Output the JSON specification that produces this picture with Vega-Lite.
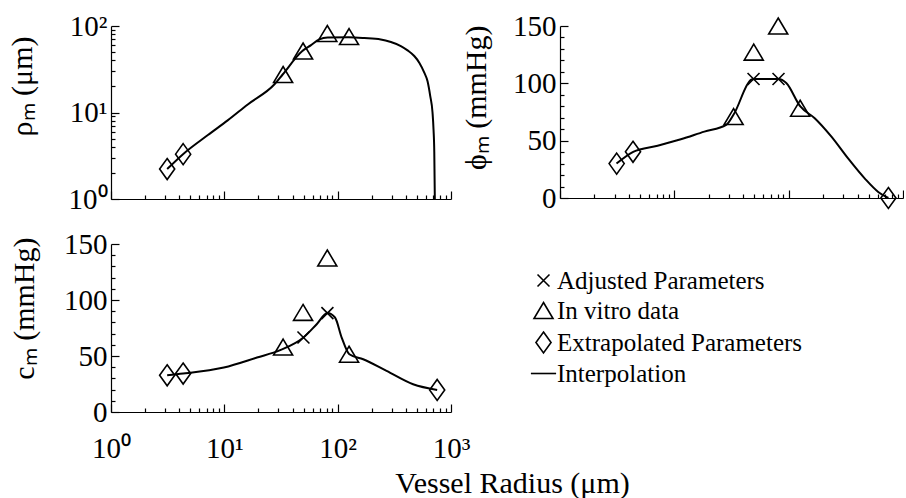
{
  "$schema": "https://vega.github.io/schema/vega-lite/v6.json",
  "background": "white",
  "padding": {"left": 6, "top": 12, "right": 0, "bottom": 0},
  "config": {
    "font": "Liberation Serif",
    "view": {"stroke": null},
    "axis": {
      "grid": false,
      "domainColor": "black",
      "domainWidth": 1.2,
      "tickColor": "black",
      "tickWidth": 1.2,
      "labelColor": "black",
      "labelFont": "Liberation Serif",
      "labelFontSize": 29,
      "labelFlush": false,
      "labelOverlap": false,
      "labelBound": false,
      "titleColor": "black",
      "titleFont": "Liberation Serif",
      "titleFontSize": 30,
      "titleFontWeight": "normal"
    },
    "legend": {
      "labelFont": "Liberation Serif",
      "labelFontSize": 25,
      "labelColor": "black",
      "labelLimit": 0,
      "padding": 0
    }
  },
  "datasets": {
    "markers": [
      {"panel": "rho", "r": 3.13, "v": 2.22, "kind": "Extrapolated Parameters"},
      {"panel": "rho", "r": 4.33, "v": 3.3, "kind": "Extrapolated Parameters"},
      {"panel": "rho", "r": 33, "v": 27.5, "kind": "In vitro data"},
      {"panel": "rho", "r": 49.5, "v": 51.4, "kind": "In vitro data"},
      {"panel": "rho", "r": 81, "v": 82, "kind": "In vitro data"},
      {"panel": "rho", "r": 126, "v": 75.5, "kind": "In vitro data"},

      {"panel": "phi", "r": 3.13, "v": 30, "kind": "Extrapolated Parameters"},
      {"panel": "phi", "r": 4.35, "v": 40.3, "kind": "Extrapolated Parameters"},
      {"panel": "phi", "r": 745, "v": 0, "kind": "Extrapolated Parameters"},
      {"panel": "phi", "r": 33, "v": 71, "kind": "In vitro data"},
      {"panel": "phi", "r": 49.5, "v": 127.2, "kind": "In vitro data"},
      {"panel": "phi", "r": 81, "v": 150, "kind": "In vitro data"},
      {"panel": "phi", "r": 126, "v": 78.3, "kind": "In vitro data"},
      {"panel": "phi", "r": 49.3, "v": 103.8, "kind": "Adjusted Parameters"},
      {"panel": "phi", "r": 81.5, "v": 103.8, "kind": "Adjusted Parameters"},

      {"panel": "c", "r": 3.13, "v": 32.8, "kind": "Extrapolated Parameters"},
      {"panel": "c", "r": 4.33, "v": 34.3, "kind": "Extrapolated Parameters"},
      {"panel": "c", "r": 755, "v": 19.7, "kind": "Extrapolated Parameters"},
      {"panel": "c", "r": 33, "v": 58, "kind": "In vitro data"},
      {"panel": "c", "r": 49.5, "v": 88.9, "kind": "In vitro data"},
      {"panel": "c", "r": 81, "v": 137.5, "kind": "In vitro data"},
      {"panel": "c", "r": 126, "v": 51.6, "kind": "In vitro data"},
      {"panel": "c", "r": 49.9, "v": 66.5, "kind": "Adjusted Parameters"},
      {"panel": "c", "r": 81.2, "v": 88.3, "kind": "Adjusted Parameters"}
    ],
    "curves": [
      {"panel": "rho", "r": 3.13, "v": 2.22},
      {"panel": "rho", "r": 4.32, "v": 3.3},
      {"panel": "rho", "r": 7.16, "v": 5.49},
      {"panel": "rho", "r": 10.7, "v": 8.1},
      {"panel": "rho", "r": 16.1, "v": 12.4},
      {"panel": "rho", "r": 27.7, "v": 21.2},
      {"panel": "rho", "r": 32.7, "v": 27.5},
      {"panel": "rho", "r": 48.5, "v": 51},
      {"panel": "rho", "r": 58.2, "v": 60},
      {"panel": "rho", "r": 68.9, "v": 70},
      {"panel": "rho", "r": 81.6, "v": 73.5},
      {"panel": "rho", "r": 125, "v": 74},
      {"panel": "rho", "r": 172, "v": 72.6},
      {"panel": "rho", "r": 240, "v": 70},
      {"panel": "rho", "r": 295, "v": 65.3},
      {"panel": "rho", "r": 361, "v": 58.7},
      {"panel": "rho", "r": 414, "v": 52.3},
      {"panel": "rho", "r": 474, "v": 45},
      {"panel": "rho", "r": 525, "v": 37.7},
      {"panel": "rho", "r": 581, "v": 28.9},
      {"panel": "rho", "r": 621, "v": 23},
      {"panel": "rho", "r": 656, "v": 15.5},
      {"panel": "rho", "r": 687, "v": 10},
      {"panel": "rho", "r": 701, "v": 6.4},
      {"panel": "rho", "r": 712, "v": 3.5},
      {"panel": "rho", "r": 720, "v": 1},

      {"panel": "phi", "r": 3.12, "v": 30.1},
      {"panel": "phi", "r": 4.37, "v": 40.3},
      {"panel": "phi", "r": 7.14, "v": 45.6},
      {"panel": "phi", "r": 11.4, "v": 51.2},
      {"panel": "phi", "r": 18.3, "v": 57.9},
      {"panel": "phi", "r": 28.4, "v": 63.7},
      {"panel": "phi", "r": 33.1, "v": 73},
      {"panel": "phi", "r": 47, "v": 103.2},
      {"panel": "phi", "r": 49.3, "v": 103.8},
      {"panel": "phi", "r": 81.5, "v": 103.8},
      {"panel": "phi", "r": 95.3, "v": 100.3},
      {"panel": "phi", "r": 126.5, "v": 79.8},
      {"panel": "phi", "r": 169, "v": 69.6},
      {"panel": "phi", "r": 236.6, "v": 53.5},
      {"panel": "phi", "r": 331, "v": 34.5},
      {"panel": "phi", "r": 464, "v": 16.9},
      {"panel": "phi", "r": 607, "v": 5.3},
      {"panel": "phi", "r": 745, "v": 0},

      {"panel": "c", "r": 3.13, "v": 32.8},
      {"panel": "c", "r": 4.33, "v": 34.3},
      {"panel": "c", "r": 9.9, "v": 39.7},
      {"panel": "c", "r": 19.4, "v": 48.6},
      {"panel": "c", "r": 31.1, "v": 55.2},
      {"panel": "c", "r": 49.9, "v": 66.5},
      {"panel": "c", "r": 65.3, "v": 78.4},
      {"panel": "c", "r": 81.2, "v": 88.3},
      {"panel": "c", "r": 94.7, "v": 84.4},
      {"panel": "c", "r": 108.5, "v": 66.5},
      {"panel": "c", "r": 126.8, "v": 51.6},
      {"panel": "c", "r": 168, "v": 47.1},
      {"panel": "c", "r": 270, "v": 36.7},
      {"panel": "c", "r": 463, "v": 24.8},
      {"panel": "c", "r": 755, "v": 19.7}
    ]
  },
  "columns": 2,
  "spacing": {"row": 45, "column": 109},
  "bounds": "flush",
  "resolve": {
    "scale": {"x": "independent", "y": "independent", "shape": "independent"},
    "legend": {"shape": "independent"}
  },
  "concat": [
    {
      "width": 340,
      "height": 173,
      "layer": [
        {
          "data": {"name": "curves"},
          "transform": [{"filter": "datum.panel === 'rho'"}],
          "mark": {"type": "line", "color": "black", "strokeWidth": 2, "interpolate": "monotone", "clip": true},
          "encoding": {
            "x": {"field": "r", "type": "quantitative", "scale": {"type": "log", "domain": [1, 1000], "nice": false},
                  "axis": {"values": [1, 10, 100, 1000], "labels": false, "tickSize": -8, "title": null}},
            "y": {"field": "v", "type": "quantitative", "scale": {"type": "log", "domain": [1, 100], "nice": false},
                  "axis": {"values": [1, 10, 100], "tickSize": -8, "labelPadding": 12,
                           "labelExpr": "datum.value < 5 ? '10\u2070' : datum.value < 50 ? '10\u00b9' : '10\u00b2'",
                           "title": "\u03c1\u2098 (\u03bcm)", "titleAngle": -90, "titleX": -80, "titleY": 10,
                           "titleAlign": "right", "titleBaseline": "alphabetic"}}
          }
        },
        {
          "data": {"name": "markers"},
          "transform": [{"filter": "datum.panel === 'rho'"}],
          "mark": {"type": "point", "filled": false, "color": "black", "strokeWidth": 1.6, "size": 441, "opacity": 1},
          "encoding": {
            "x": {"field": "r", "type": "quantitative", "scale": {"type": "log", "domain": [1, 1000], "nice": false},
                  "axis": {"orient": "bottom", "values": [2,3,4,5,6,7,8,9,20,30,40,50,60,70,80,90,200,300,400,500,600,700,800,900],
                           "labels": false, "domain": false, "tickSize": -4, "title": null}},
            "y": {"field": "v", "type": "quantitative", "scale": {"type": "log", "domain": [1, 100], "nice": false},
                  "axis": {"orient": "left", "values": [2,3,4,5,6,7,8,9,20,30,40,50,60,70,80,90],
                           "labels": false, "domain": false, "tickSize": -4, "title": null}},
            "shape": {"field": "kind", "type": "nominal", "legend": null,
                      "scale": {"domain": ["Adjusted Parameters", "In vitro data", "Extrapolated Parameters", "Interpolation"],
                                "range": ["M-0.57,-0.57L0.57,0.57M-0.57,0.57L0.57,-0.57", "M0,-0.76L0.905,0.76L-0.905,0.76Z", "M0,-1L0.72,0L0,1L-0.72,0Z", "M-1.2,0L1.2,0"]}}
          }
        }
      ],
      "resolve": {"axis": {"x": "independent", "y": "independent"}}
    },
    {
      "width": 343,
      "height": 172,
      "layer": [
        {
          "data": {"name": "curves"},
          "transform": [{"filter": "datum.panel === 'phi'"}],
          "mark": {"type": "line", "color": "black", "strokeWidth": 2, "interpolate": "monotone", "clip": true},
          "encoding": {
            "x": {"field": "r", "type": "quantitative", "scale": {"type": "log", "domain": [1, 1000], "nice": false},
                  "axis": {"values": [1, 10, 100, 1000], "labels": false, "tickSize": -8, "title": null}},
            "y": {"field": "v", "type": "quantitative", "scale": {"domain": [0, 150], "nice": false},
                  "axis": {"values": [0, 50, 100, 150], "tickSize": -8, "labelPadding": 12,
                           "title": "\u03d5\u2098 (mmHg)", "titleAngle": -90, "titleX": -75, "titleY": -1,
                           "titleAlign": "right", "titleBaseline": "alphabetic"}}
          }
        },
        {
          "data": {"name": "markers"},
          "transform": [{"filter": "datum.panel === 'phi'"}],
          "mark": {"type": "point", "filled": false, "color": "black", "strokeWidth": 1.6, "size": 441, "opacity": 1},
          "encoding": {
            "x": {"field": "r", "type": "quantitative", "scale": {"type": "log", "domain": [1, 1000], "nice": false},
                  "axis": {"orient": "bottom", "values": [2,3,4,5,6,7,8,9,20,30,40,50,60,70,80,90,200,300,400,500,600,700,800,900],
                           "labels": false, "domain": false, "tickSize": -4, "title": null}},
            "y": {"field": "v", "type": "quantitative", "scale": {"domain": [0, 150], "nice": false},
                  "axis": {"orient": "left", "values": [10,20,30,40,60,70,80,90,110,120,130,140],
                           "labels": false, "domain": false, "tickSize": -4, "title": null}},
            "shape": {"field": "kind", "type": "nominal", "legend": null,
                      "scale": {"domain": ["Adjusted Parameters", "In vitro data", "Extrapolated Parameters", "Interpolation"],
                                "range": ["M-0.57,-0.57L0.57,0.57M-0.57,0.57L0.57,-0.57", "M0,-0.76L0.905,0.76L-0.905,0.76Z", "M0,-1L0.72,0L0,1L-0.72,0Z", "M-1.2,0L1.2,0"]}}
          }
        }
      ],
      "resolve": {"axis": {"x": "independent", "y": "independent"}}
    },
    {
      "width": 340,
      "height": 168,
      "layer": [
        {
          "data": {"name": "curves"},
          "transform": [{"filter": "datum.panel === 'c'"}],
          "mark": {"type": "line", "color": "black", "strokeWidth": 2, "interpolate": "monotone", "clip": true},
          "encoding": {
            "x": {"field": "r", "type": "quantitative", "scale": {"type": "log", "domain": [1, 1000], "nice": false},
                  "axis": {"values": [1, 10, 100, 1000], "tickSize": -8, "labelPadding": 30,
                           "labelExpr": "datum.value < 5 ? '10\u2070' : datum.value < 50 ? '10\u00b9' : datum.value < 500 ? '10\u00b2' : '10\u00b3'",
                           "title": "Vessel Radius (\u03bcm)", "titleX": 401, "titleY": 80,
                           "titleAlign": "center", "titleBaseline": "alphabetic"}},
            "y": {"field": "v", "type": "quantitative", "scale": {"domain": [0, 150], "nice": false},
                  "axis": {"values": [0, 50, 100, 150], "tickSize": -8, "labelPadding": 12,
                           "title": "c\u2098 (mmHg)", "titleAngle": -90, "titleX": -78, "titleY": -7,
                           "titleAlign": "right", "titleBaseline": "alphabetic"}}
          }
        },
        {
          "data": {"name": "markers"},
          "transform": [{"filter": "datum.panel === 'c'"}],
          "mark": {"type": "point", "filled": false, "color": "black", "strokeWidth": 1.6, "size": 441, "opacity": 1},
          "encoding": {
            "x": {"field": "r", "type": "quantitative", "scale": {"type": "log", "domain": [1, 1000], "nice": false},
                  "axis": {"orient": "bottom", "values": [2,3,4,5,6,7,8,9,20,30,40,50,60,70,80,90,200,300,400,500,600,700,800,900],
                           "labels": false, "domain": false, "tickSize": -4, "title": null}},
            "y": {"field": "v", "type": "quantitative", "scale": {"domain": [0, 150], "nice": false},
                  "axis": {"orient": "left", "values": [10,20,30,40,60,70,80,90,110,120,130,140],
                           "labels": false, "domain": false, "tickSize": -4, "title": null}},
            "shape": {"field": "kind", "type": "nominal",
                      "scale": {"domain": ["Adjusted Parameters", "In vitro data", "Extrapolated Parameters", "Interpolation"],
                                "range": ["M-0.57,-0.57L0.57,0.57M-0.57,0.57L0.57,-0.57", "M0,-0.76L0.905,0.76L-0.905,0.76Z", "M0,-1L0.72,0L0,1L-0.72,0Z", "M-1.2,0L1.2,0"]},
                      "legend": {"title": null, "orient": "none", "legendX": 420, "legendY": 24, "direction": "vertical",
                                 "symbolSize": 441, "symbolStrokeWidth": 1.6, "symbolStrokeColor": "black", "symbolFillColor": "transparent",
                                 "labelOffset": 1, "rowPadding": 4, "padding": 0, "labelLimit": 0}}
          }
        }
      ],
      "resolve": {"axis": {"x": "independent", "y": "independent"}}
    }
  ]
}
